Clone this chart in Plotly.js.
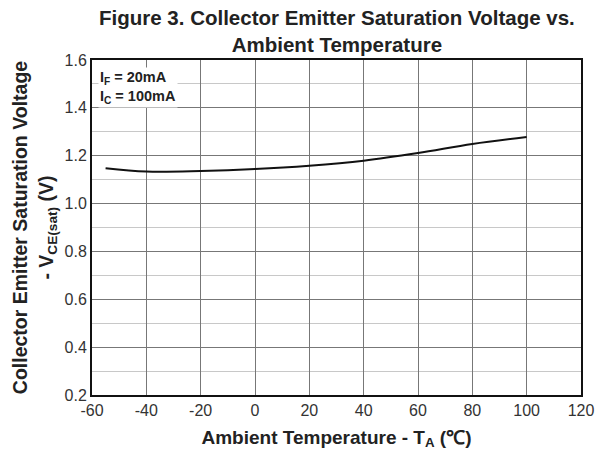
<!DOCTYPE html>
<html><head><meta charset="utf-8">
<script src="https://cdn.plot.ly/plotly-3.0.1.min.js"></script>
<style>html,body{margin:0;padding:0;background:#fff}#c{width:598px;height:457px}</style>
</head><body><div id="c"></div>
<script>
const tempC = [-55, -40, -20, 0, 20, 40, 60, 80, 100];
const vceSat = [1.148, 1.134, 1.136, 1.144, 1.158, 1.179, 1.211, 1.249, 1.278];
const xTicks = [-60, -40, -20, 0, 20, 40, 60, 80, 100, 120];
const xTickText = ['-60', '-40', '-20', '0', '20', '40', '60', '80', '100', '120'];
const yTicks = [0.2, 0.4, 0.6, 0.8, 1.0, 1.2, 1.4, 1.6];
const yTickText = ['0.2', '0.4', '0.6', '0.8', '1.0', '1.2', '1.4', '1.6'];
const conditionText = 'I<sub>F</sub> = 20mA<br>I<sub>C</sub> = 100mA';
const titleText = 'Figure 3. Collector Emitter Saturation Voltage vs.<br>Ambient Temperature';

const F = 'Liberation Sans, Arial, sans-serif';
Plotly.newPlot('c', [{
  x: tempC, y: vceSat, type: 'scatter', mode: 'lines',
  line: {color: '#111', width: 2, shape: 'spline', smoothing: 1},
  hoverinfo: 'skip'
}], {
  width: 598, height: 457,
  margin: {l: 92, r: 17, t: 60, b: 62},
  paper_bgcolor: '#fff', plot_bgcolor: '#fff',
  showlegend: false,
  xaxis: {range: [-60, 120], tickvals: xTicks, ticktext: xTickText, ticks: '', showgrid: true, gridcolor: '#777', gridwidth: 1,
    zeroline: false, showline: true, linecolor: '#111', linewidth: 2, mirror: true,
    tickfont: {family: F, size: 16, color: '#333'},
    title: {text: '<b>Ambient Temperature - T<sub>A</sub> (℃)</b>', font: {family: F, size: 19, color: '#222'}, standoff: 12}},
  yaxis: {range: [0.2, 1.6], tickvals: yTicks, ticktext: yTickText, ticks: '', showgrid: true, gridcolor: '#777', gridwidth: 1,
    minor: {dtick: 0.1, showgrid: true, gridcolor: '#c8c8c8', gridwidth: 1},
    zeroline: false, showline: true, linecolor: '#111', linewidth: 2, mirror: true,
    tickfont: {family: F, size: 16, color: '#333'},
    title: {text: '<b>Collector Emitter Saturation Voltage<br>- V<sub>CE(sat)</sub> (V)</b>', font: {family: F, size: 19.5, color: '#222'}, standoff: 6}},
  annotations: [{
    text: '<b>' + titleText + '</b>', xref: 'paper', yref: 'paper', x: 0.5, y: 1.005,
    xanchor: 'center', yanchor: 'bottom', align: 'center', showarrow: false,
    font: {family: F, size: 20.5, color: '#222'}
  }, {
    text: '<b>' + conditionText + '</b>', xref: 'paper', yref: 'paper', x: 0.012, y: 0.978,
    xanchor: 'left', yanchor: 'top', align: 'left', showarrow: false, bgcolor: '#fff',
    font: {family: F, size: 14.5, color: '#222'}
  }]
}, {displayModeBar: false, staticPlot: true});
</script></body></html>
